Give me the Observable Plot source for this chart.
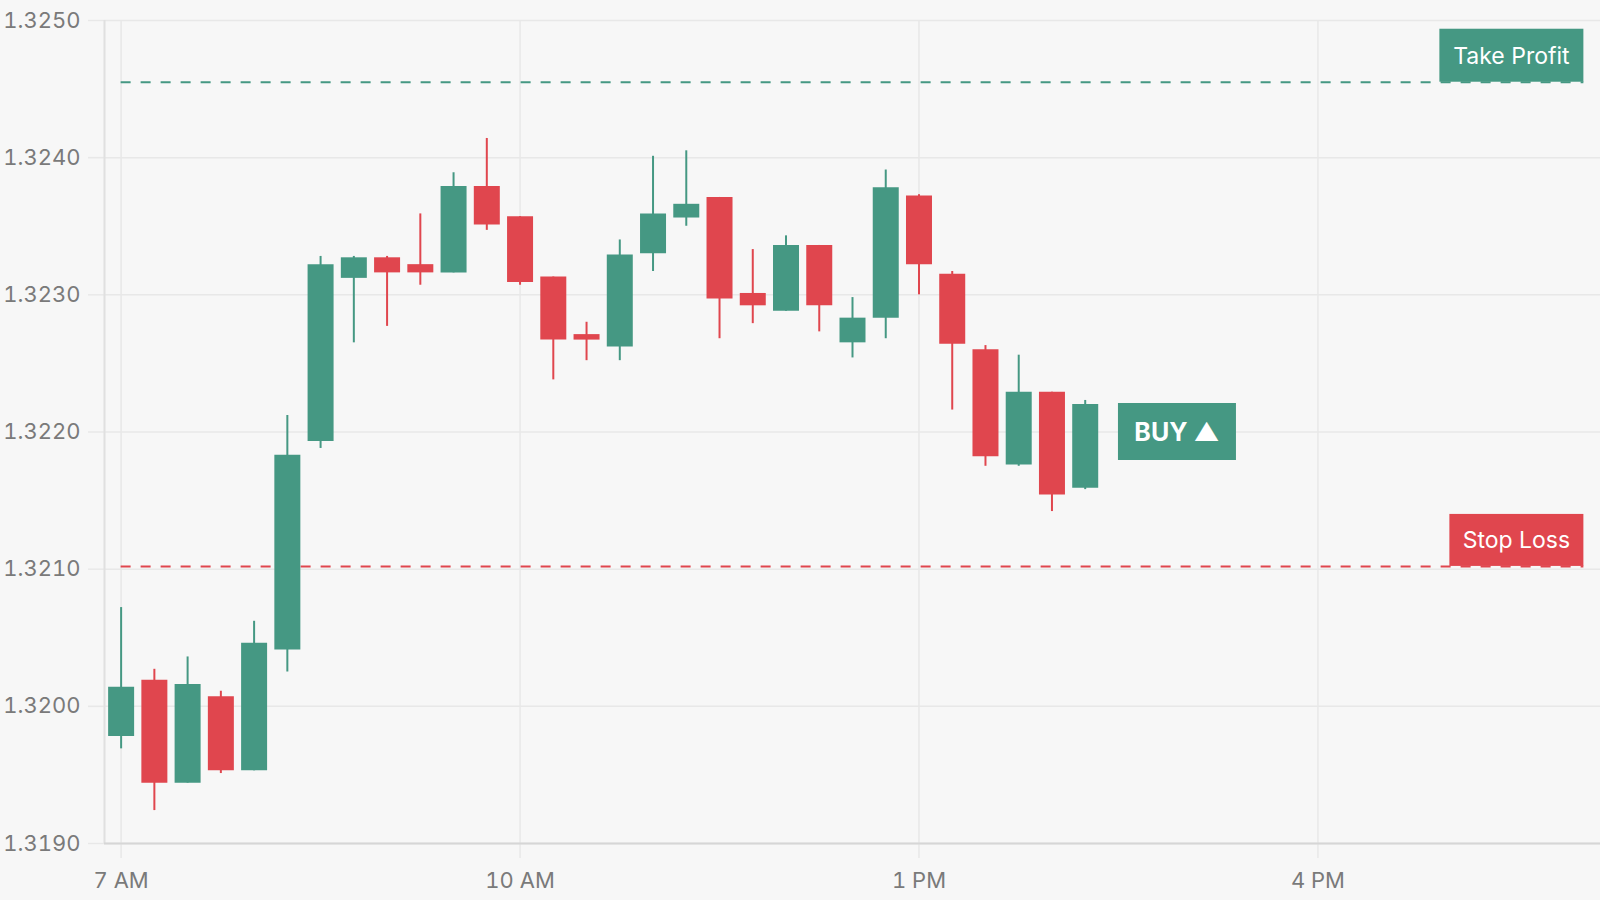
<!DOCTYPE html>
<html>
<head>
<meta charset="utf-8">
<script src="https://cdn.jsdelivr.net/npm/d3@7"></script>
<script src="https://cdn.jsdelivr.net/npm/@observablehq/plot@0.6"></script>
<style>
  html, body { margin: 0; padding: 0; background: #f7f7f7; overflow: hidden; }
  #chart svg { display: block; }
</style>
</head>
<body>
<div id="chart"></div>
<script>
// ---- data ----
const day = "2024-01-15";
const times = ["07:00","07:15","07:30","07:45","08:00","08:15","08:30","08:45","09:00","09:15",
               "09:30","09:45","10:00","10:15","10:30","10:45","11:00","11:15","11:30","11:45",
               "12:00","12:15","12:30","12:45","13:00","13:15","13:30","13:45","14:00","14:15"];
const open  = [1.31978,1.32019,1.31944,1.32007,1.31953,1.32041,1.32193,1.32312,1.32327,1.32322,
               1.32316,1.32379,1.32357,1.32313,1.32271,1.32262,1.32330,1.32356,1.32371,1.32301,
               1.32288,1.32336,1.32265,1.32283,1.32372,1.32315,1.32260,1.32176,1.32229,1.32159];
const high  = [1.32072,1.32027,1.32036,1.32011,1.32062,1.32212,1.32328,1.32328,1.32328,1.32359,
               1.32389,1.32414,1.32357,1.32313,1.32280,1.32340,1.32401,1.32405,1.32371,1.32333,
               1.32343,1.32336,1.32298,1.32391,1.32373,1.32317,1.32263,1.32256,1.32229,1.32223];
const low   = [1.31969,1.31924,1.31944,1.31951,1.31953,1.32025,1.32188,1.32265,1.32277,1.32307,
               1.32316,1.32347,1.32307,1.32238,1.32252,1.32252,1.32317,1.32350,1.32268,1.32279,
               1.32288,1.32273,1.32254,1.32268,1.32300,1.32216,1.32175,1.32175,1.32142,1.32158];
const close = [1.32014,1.31944,1.32016,1.31953,1.32046,1.32183,1.32322,1.32327,1.32316,1.32316,
               1.32379,1.32351,1.32309,1.32267,1.32267,1.32329,1.32359,1.32366,1.32297,1.32292,
               1.32336,1.32292,1.32283,1.32378,1.32322,1.32264,1.32182,1.32229,1.32154,1.32220];

const yTicks = [1.3190, 1.3200, 1.3210, 1.3220, 1.3230, 1.3240, 1.3250];
const xTickTimes = ["07:00", "10:00", "13:00", "16:00"];
const xDomainTimes = ["06:52:30", "18:07:30"];
const yDomain = [1.3190, 1.3250];

const takeProfit = 1.32455;
const stopLoss = 1.32102;
const levelStart = "07:00";
const levelEnd = "18:00";
const buyTime = "14:30";
const buyPrice = 1.3220;

// ---- styles ----
const GREEN = "#459883";
const RED = "#e0464e";
const GRID = "#e8e8e8";
const AXIS = "#d6d6d6";
const LABEL = "#7a7a7a";
const FONT = "Inter, 'Noto Sans', sans-serif";

const toDate = t => new Date(`${day}T${t}${t.length === 5 ? ":00" : ""}Z`);

const candles = times.map((t, i) => ({
  date: toDate(t), open: open[i], high: high[i], low: low[i], close: close[i],
  up: close[i] >= open[i]
}));

const levels = [
  {price: takeProfit, x1: toDate(levelStart), x2: toDate(levelEnd), color: GREEN},
  {price: stopLoss,   x1: toDate(levelStart), x2: toDate(levelEnd), color: RED}
];

const plot = Plot.plot({
  width: 1600,
  height: 900,
  marginTop: 20,
  marginBottom: 57,
  marginLeft: 104,
  marginRight: 0,
  style: {background: "#f7f7f7", fontFamily: FONT, overflow: "visible"},
  x: {type: "utc", domain: xDomainTimes.map(toDate), label: null},
  y: {domain: yDomain, label: null},
  marks: [
    Plot.gridY(yTicks, {stroke: GRID, strokeOpacity: 1, strokeWidth: 1.5}),
    Plot.gridX(xTickTimes.map(toDate), {stroke: GRID, strokeOpacity: 1, strokeWidth: 1.5}),
    Plot.axisY(yTicks, {
      tickSize: 16, tickPadding: 8, stroke: GRID, strokeWidth: 1.5, fill: LABEL,
      fontSize: 22, tickFormat: d3.format(".4f")
    }),
    Plot.axisX(xTickTimes.map(toDate), {
      tickSize: 15, tickPadding: 14, stroke: GRID, strokeWidth: 1.5, fill: LABEL,
      fontSize: 22, tickFormat: d3.utcFormat("%-I %p")
    }),
    Plot.ruleX([toDate(xDomainTimes[0])], {stroke: "#e0e0e0", strokeWidth: 2}),
    Plot.ruleY([yDomain[0]], {stroke: AXIS, strokeWidth: 2}),
    Plot.ruleY(levels, {
      y: "price", x1: "x1", x2: "x2", stroke: d => d.color,
      strokeWidth: 2, strokeDasharray: "10,10"
    }),
    Plot.ruleX(candles, {
      x: "date", y1: "low", y2: "high", stroke: d => d.up ? GREEN : RED, strokeWidth: 2
    }),
    Plot.ruleX(candles, {
      x: "date", y1: "open", y2: "close", stroke: d => d.up ? GREEN : RED, strokeWidth: 26
    })
  ]
});

document.getElementById("chart").appendChild(plot);

// ---- annotation boxes positioned with the plot's own scales ----
const sx = plot.scale("x"), sy = plot.scale("y");
const svg = d3.select(plot);
const g = svg.append("g").attr("font-family", FONT);

const boxes = [
  {text: "Take Profit", time: levelEnd, price: takeProfit, w: 144, h: 53, color: GREEN, align: "end-above", size: 23, weight: 400},
  {text: "Stop Loss",   time: levelEnd, price: stopLoss,   w: 134, h: 52, color: RED,   align: "end-above", size: 23, weight: 400},
  {text: "BUY ▲",       time: buyTime,  price: buyPrice,   w: 118, h: 57, color: GREEN, align: "start-middle", size: 25, weight: 700}
];

for (const b of boxes) {
  const px = sx.apply(toDate(b.time));
  const py = sy.apply(b.price);
  const x0 = b.align.startsWith("end") ? px - b.w : px;
  const y0 = b.align.endsWith("above") ? py - b.h : py - b.h / 2;
  g.append("rect").attr("x", x0).attr("y", y0).attr("width", b.w).attr("height", b.h).attr("fill", b.color);
  g.append("text")
    .attr("x", x0 + b.w / 2)
    .attr("y", y0 + b.h / 2)
    .attr("dy", "0.36em")
    .attr("text-anchor", "middle")
    .attr("fill", "#ffffff")
    .attr("font-size", b.size)
    .attr("font-weight", b.weight)
    .text(b.text);
}
</script>
</body>
</html>
